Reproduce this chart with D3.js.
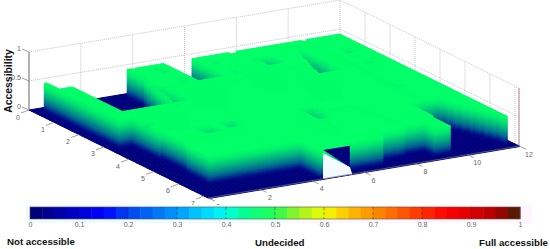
<!DOCTYPE html>
<html>
<head>
<meta charset="utf-8">
<script src="https://cdnjs.cloudflare.com/ajax/libs/d3/7.8.5/d3.min.js"></script>
<style>
    html, body { margin: 0; padding: 0; background: #fff; }
    svg { display: block; }
    text { font-family: "Liberation Sans", Arial, sans-serif; }
    .tick-label { font-size: 7px; fill: #666; }
    .big-label { font-size: 9.7px; font-weight: bold; fill: #111; }
</style>
</head>
<body>
<svg id="chart" width="550" height="249"></svg>
<script>
// axis ticks
const colTicks = [0, 2, 4, 6, 8, 10, 12]
const rowTicks = [0, 1, 2, 3, 4, 5, 6, 7]
const zTicks = [0, 0.5, 1]
const barTicks = [0, 0.1, 0.2, 0.3, 0.4, 0.5, 0.6, 0.7, 0.8, 0.9, 1]

// colormap
const mapValues = [0, 0.1, 0.15, 0.2, 0.3, 0.35, 0.4, 0.43, 0.5, 0.55, 0.6, 0.65, 0.7, 0.8, 0.85, 0.9, 0.95, 1]
const mapColors = ['#00006e', '#0000d0', '#0000ff', '#0044f0', '#0098ff', '#00d0ff', '#00fff0', '#00ff99', '#20ff50', '#a0f020', '#f0ff00', '#ffc000', '#ff9000', '#ff3000', '#ff0000', '#e00000', '#b00000', '#402000']
// the walls fade from dark blue straight to the plateau green
const wallStops = [0, 0.08, 0.3, 0.55, 0.8, 1]
const wallColors = ['#00007c', '#000c88', '#006a90', '#00b080', '#00e870', '#00ff66']

// accessibility surface, outlines are [col, row]
const plateauZ = 0.5
const plateau = [[0.25, 0.26], [0.4, 0.26], [0.4, 0.82], [0.95, 0.82], [0.95, 2.79], [3.5, 2.79], [3.5, 0.29],
    [3.7, 0.29], [3.7, 0.44], [3.85, 0.44], [3.85, 0.29], [4.9, 0.29], [4.9, 1.74], [6, 1.74], [6, 0.28],
    [7.4, 0.28], [7.4, 0.41], [7.7, 0.41], [7.7, 0.31], [10.2, 0.31], [10.2, 0.43], [10.45, 0.43], [10.45, 0.34],
    [11.7, 0.34], [11.7, 7.11], [9.5, 7.11], [9.5, 6.96], [8.9, 6.96], [8.9, 6.65], [8, 6.65], [8, 6.75],
    [6.9, 6.75], [6.9, 7], [5.4, 7], [5.4, 7.16], [4.3, 7.16], [4.3, 6.45], [0.77, 6.45], [0.77, 5.47],
    [0.95, 5.47], [0.75, 3.27], [0.3, 3.27], [0.25, 0.26]]
const pitZ = [0, 0, 0.05, 0.28, 0.36, 0.36]
const pits = [
    [[9.6, 5.22], [10.8, 5.16], [11.7, 7.06], [11.8, 7.16], [9.5, 7.16]],
    [[9.41, 0.97], [9.75, 0.82], [9.75, 2.49], [8.76, 2.49]],
    [[7.7, 0.88], [8.54, 0.88], [8.54, 1.51], [7.85, 1.51]],
    [[6.1, 4.4], [6.7, 4.4], [6.7, 5.22], [6.1, 5.32]],
    [[2, 4.5], [2.7, 4.5], [2.7, 4.96], [2, 4.96]],
    [[3, 4.4], [3.6, 4.4], [3.6, 4.86], [3, 4.86]]
]
const dipCols = [0.97, 4.49, 4.48, 6.45, 6.44, 11.02, 11, 10.4]
const dipRows = [3.84, 0.71, 1.51, 0.76, 1.57, 1.42, 2.23, 4.04]
const creases = [[3.74, 0.44, 2.76, 3.17], [10.35, 0.41, 10.28, 3.17], [7.75, 4.88, 8.31, 6.55],
    [7, 4.8, 7.75, 4.88], [6.14, 5.36, 6.07, 6.14]]

// gap in the surface at the front edge
const holeFloor = [[5.95, 5.59], [5.9, 6.72], [5.55, 7.18], [4.43, 7.17]]
const holeWall = [[4.43, 7.18, 0.5], [5.45, 7.18, 0.5], [5.9, 6.72, 0]]

const COLS = 12, ROWS = 7.16, STEP = 0.1, BANDS = 16

const xFromCol = d3.scaleLinear().domain([0, COLS]).range([0, 311]),
    yFromCol = d3.scaleLinear().domain([0, COLS]).range([0, -52]),
    xFromRow = d3.scaleLinear().domain([0, ROWS]).range([0, 179]),
    yFromRow = d3.scaleLinear().domain([0, ROWS]).range([0, 88]),
    yFromZ = d3.scaleLinear().domain([0, 1]).range([0, -58])
const ORIGIN = [29, 110]

function project(c, r, z) {
    return [ORIGIN[0] + xFromCol(c) + xFromRow(r), ORIGIN[1] + yFromCol(c) + yFromRow(r) + yFromZ(z)]
}
const pts = list => list.map(p => p.join(',')).join(' ')

const colorMap = d3.scaleLinear().domain(mapValues).range(mapColors)
const wallMap = d3.scaleLinear().domain(wallStops.map(d => d * plateauZ)).range(wallColors)

const $svg = d3.select('#chart')
const $defs = $svg.append('defs')
$defs.append('filter').attr('id', 'soft').attr('color-interpolation-filters', 'sRGB')
    .append('feGaussianBlur').attr('stdDeviation', 0.6)
const $gBack = $svg.append('g').attr('class', 'back')
const $gSurface = $svg.append('g').attr('class', 'surface').attr('filter', 'url(#soft)')
const $gAxes = $svg.append('g').attr('class', 'axes')
const $gBar = $svg.append('g').attr('class', 'colorbar')

function drawBack() {
    const gridLine = (a, b) => $gBack.append('line')
        .attr('x1', a[0]).attr('y1', a[1]).attr('x2', b[0]).attr('y2', b[1])
        .attr('stroke', '#b4b4b4').attr('stroke-width', 0.8).attr('stroke-dasharray', '1 1')
    zTicks.slice(1).forEach(z => {
        gridLine(project(0, 0, z), project(COLS, 0, z))
        gridLine(project(COLS, 0, z), project(COLS, ROWS, z))
    })
    colTicks.slice(1).forEach(c => gridLine(project(c, 0, 0), project(c, 0, 1)))
    rowTicks.slice(1).forEach(r => gridLine(project(COLS, r, 0), project(COLS, r, 1)))
    $gBack.append('line')
        .attr('x1', project(COLS, ROWS, 0)[0]).attr('y1', project(COLS, ROWS, 0)[1])
        .attr('x2', project(COLS, ROWS, 1)[0]).attr('y2', project(COLS, ROWS, 1)[1])
        .attr('stroke', '#b07a90').attr('stroke-width', 1)
}

function buildHeights() {
    const nc = Math.round(COLS / STEP), nr = Math.round(ROWS / STEP)
    const grid = d3.range(nr).map(() => d3.range(nc).map(() => 0))
    const paint = (poly, z) => {
        for (let j = 0; j < nr; j++) {
            for (let i = 0; i < nc; i++) {
                if (d3.polygonContains(poly, [(i + 0.5) * STEP, (j + 0.5) * STEP])) grid[j][i] = z
            }
        }
    }
    paint(plateau, plateauZ)
    pits.forEach((p, k) => paint(p, pitZ[k]))
    dipCols.forEach((c, k) => {
        const r = dipRows[k], s = 0.17
        paint([[c - s, r - s], [c + s, r - s], [c + s, r + s], [c - s, r + s]], 0.4)
    })
    creases.forEach(d => {
        const dc = d[2] - d[0], dr = d[3] - d[1], len = Math.hypot(dc, dr)
        const nx = -dr / len * 0.06, ny = dc / len * 0.06
        paint([[d[0] + nx, d[1] + ny], [d[2] + nx, d[3] + ny], [d[2] - nx, d[3] - ny], [d[0] - nx, d[1] - ny]], 0.46)
    })
    return grid
}

// a wall is cut in flat horizontal bands so neighbouring pieces line up
function pushWall(faces, a, b, low, high) {
    const n = Math.max(1, Math.round((high - low) / plateauZ * BANDS))
    d3.range(n).forEach(k => {
        const z0 = high + (low - high) * k / n, z1 = high + (low - high) * (k + 1) / n
        const fill = wallMap((z0 + z1) / 2)
        faces.push({
            poly: [project(a[0], a[1], z0), project(b[0], b[1], z0), project(b[0], b[1], z1), project(a[0], a[1], z1)],
            fill
        })
    })
}

function drawSurface() {
    const grid = buildHeights()
    const nr = grid.length, nc = grid[0].length
    const faces = []
    // far to near: low row first, high column first
    for (let j = 0; j < nr; j++) {
        const r0 = j * STEP, r1 = (j + 1) * STEP
        // runs of equal height share one top polygon
        let runEnd = nc
        for (let i = nc - 1; i >= 0; i--) {
            if (i === 0 || grid[j][i - 1] !== grid[j][i]) {
                const z = grid[j][i], c0 = i * STEP, c1 = runEnd * STEP
                faces.push({
                    poly: [project(c0, r0, z), project(c1, r0, z), project(c1, r1, z), project(c0, r1, z)],
                    fill: wallMap(z)
                })
                runEnd = i
            }
        }
        for (let i = nc - 1; i >= 0; i--) {
            const z = grid[j][i]
            const c0 = i * STEP, c1 = (i + 1) * STEP
            const left = i > 0 ? grid[j][i - 1] : 0
            if (left < z) pushWall(faces, [c0, r0], [c0, r1], left, z)
            const front = j < nr - 1 ? grid[j + 1][i] : 0
            if (front < z) pushWall(faces, [c0, r1], [c1, r1], front, z)
        }
    }
    $gSurface.selectAll('polygon.face')
        .data(faces)
        .join('polygon')
        .attr('class', 'face')
        .attr('points', d => pts(d.poly))
        .attr('fill', d => d.fill)
        .attr('stroke', d => d.fill)
        .attr('stroke-width', 1)

    $gSurface.append('polygon')
        .attr('points', pts(holeFloor.map(p => project(p[0], p[1], 0))))
        .attr('fill', '#f4fbff')
    $gSurface.append('polygon')
        .attr('points', pts(holeWall.map(p => project(p[0], p[1], p[2]))))
        .attr('fill', '#00007c')
}

function drawAxes() {
    // z axis
    const zTop = project(0, 0, 1), zBottom = project(0, 0, 0)
    $gAxes.append('line')
        .attr('x1', zTop[0]).attr('y1', zTop[1]).attr('x2', zBottom[0]).attr('y2', zBottom[1])
        .attr('stroke', '#666').attr('stroke-width', 1)
    zTicks.forEach(z => {
        const p = project(0, 0, z)
        $gAxes.append('line').attr('x1', p[0]).attr('y1', p[1]).attr('x2', p[0] - 7).attr('y2', p[1] - 3)
            .attr('stroke', '#888').attr('stroke-width', 0.8)
        $gAxes.append('text').attr('class', 'tick-label')
            .attr('x', p[0] - 8).attr('y', p[1] - 1).attr('text-anchor', 'end').text(z)
    })
    // front edge shows through the gap in the surface
    const edgeA = project(0, ROWS, 0), edgeB = project(COLS, ROWS, 0)
    $gAxes.append('line')
        .attr('x1', edgeA[0]).attr('y1', edgeA[1]).attr('x2', edgeB[0]).attr('y2', edgeB[1])
        .attr('stroke', '#777').attr('stroke-width', 0.7)
    // row axis, front left edge
    rowTicks.forEach(r => {
        const p = project(0, r, 0)
        $gAxes.append('line').attr('x1', p[0]).attr('y1', p[1]).attr('x2', p[0] - 8).attr('y2', p[1] + 3)
            .attr('stroke', '#888').attr('stroke-width', 0.8)
        $gAxes.append('text').attr('class', 'tick-label')
            .attr('x', p[0] - 11).attr('y', p[1] + 9.5).attr('text-anchor', 'middle').text(r)
    })
    // column axis, front right edge
    colTicks.forEach(c => {
        const p = project(c, ROWS, 0)
        $gAxes.append('line').attr('x1', p[0]).attr('y1', p[1]).attr('x2', p[0] + 7).attr('y2', p[1] + 3)
            .attr('stroke', '#888').attr('stroke-width', 0.8)
        $gAxes.append('text').attr('class', 'tick-label')
            .attr('x', p[0] + 10).attr('y', p[1] + 10.5).attr('text-anchor', 'middle').text(c)
    })
    $gAxes.append('text').attr('class', 'big-label')
        .attr('transform', 'translate(12,81) rotate(-90)')
        .attr('text-anchor', 'middle').style('font-size', '10.4px').text('Accessibility')
}

function drawColorbar() {
    const xBar = d3.scaleLinear().domain([0, 1]).range([30, 520])
    const BAR_TOP = 207, BAR_H = 12, STEPS = 40

    // pale halo the colorbar has in the picture
    $gBar.append('rect').attr('x', 26).attr('y', 205).attr('width', 260).attr('height', 18).attr('fill', '#effcff')
    $gBar.append('rect').attr('x', 286).attr('y', 205).attr('width', 246).attr('height', 18).attr('fill', '#fff5fc')

    $gBar.selectAll('rect.step')
        .data(d3.range(STEPS))
        .join('rect')
        .attr('class', 'step')
        .attr('x', d => xBar(d / STEPS))
        .attr('y', BAR_TOP)
        .attr('width', xBar(1 / STEPS) - xBar(0) + 0.5)
        .attr('height', BAR_H)
        .attr('fill', d => colorMap((d + 0.5) / STEPS))

    $gBar.append('rect')
        .attr('x', xBar(0)).attr('y', BAR_TOP).attr('width', xBar(1) - xBar(0)).attr('height', BAR_H)
        .attr('fill', 'none').attr('stroke', '#555').attr('stroke-opacity', 0.6).attr('stroke-width', 1)

    const axis = d3.axisBottom(xBar).tickValues(barTicks).tickSize(0).tickFormat(d => d)
    const $axis = $gBar.append('g')
        .attr('transform', `translate(0,${BAR_TOP + BAR_H})`)
        .call(axis)
    $axis.select('.domain').remove()
    $axis.selectAll('text').attr('class', 'tick-label').attr('y', 3).attr('dy', '0.71em').attr('font-family', null).attr('font-size', null)

    $gBar.selectAll('line.mark')
        .data(barTicks.slice(1, -1))
        .join('line')
        .attr('class', 'mark')
        .attr('x1', d => xBar(d)).attr('x2', d => xBar(d))
        .attr('y1', BAR_TOP).attr('y2', BAR_TOP + BAR_H)
        .attr('stroke', '#223').attr('stroke-opacity', 0.45).attr('stroke-width', 1).attr('stroke-dasharray', '3 2')

    $gBar.append('text').attr('class', 'big-label').attr('x', 7).attr('y', 245).text('Not accessible')
    $gBar.append('text').attr('class', 'big-label').attr('x', 255).attr('y', 246).text('Undecided')
    $gBar.append('text').attr('class', 'big-label').attr('x', 548).attr('y', 246).attr('text-anchor', 'end').text('Full accessible')
}

drawBack()
drawSurface()
drawAxes()
drawColorbar()
</script>
</body>
</html>
